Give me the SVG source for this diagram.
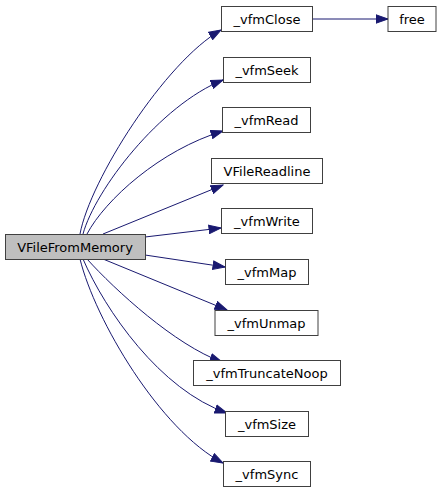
<svg xmlns="http://www.w3.org/2000/svg" width="441" height="493" viewBox="0 0 441 493">
<defs>
<style>
.node rect{fill:#ffffff;stroke:#404040;stroke-width:1}
.node.main rect{fill:#bfbfbf}
.node text{font-family:"DejaVu Sans",sans-serif;font-size:13px;fill:#000000;text-anchor:middle}
.edge{fill:none;stroke:#191970;stroke-width:1;marker-end:url(#arr)}
</style>
<marker id="arr" markerUnits="userSpaceOnUse" markerWidth="14" markerHeight="10" refX="12.5" refY="5" orient="auto" viewBox="0 0 14 10">
<path d="M0.5,0.8 L12.5,5 L0.5,9.2 z" fill="#191970" stroke="#191970" stroke-width="1"/>
</marker>
</defs>
<rect width="441" height="493" fill="#ffffff"/>
<g id="connectors">
<path class="edge" d="M80,234 C90,180 165,62 221,30"/>
<path class="edge" d="M83,234 C95,190 160,105 223,80"/>
<path class="edge" d="M87,234 C105,200 160,150 223,131"/>
<path class="edge" d="M103,234 L223,185"/>
<path class="edge" d="M145,237 L221,228"/>
<path class="edge" d="M145,255 L225,267"/>
<path class="edge" d="M103,259 L227,310"/>
<path class="edge" d="M87,259 C115,290 175,345 222,362"/>
<path class="edge" d="M83,259 C105,310 160,390 227,413"/>
<path class="edge" d="M80,259 C95,320 160,430 223,463"/>
<path class="edge" d="M312,19 L388,19"/>
</g>
<g id="VFileFromMemory" class="node main"><rect x="5.5" y="234.5" width="140" height="25"/><text x="75" y="251.5">VFileFromMemory</text></g>
<g id="vfmClose" class="node"><rect x="221.5" y="6.5" width="91" height="25"/><text x="267" y="23.5">_vfmClose</text></g>
<g id="free" class="node"><rect x="388" y="6.5" width="48" height="25"/><text x="412" y="23.5">free</text></g>
<g id="vfmSeek" class="node"><rect x="223.5" y="57.5" width="87" height="25"/><text x="267" y="74.5">_vfmSeek</text></g>
<g id="vfmRead" class="node"><rect x="222.5" y="107.5" width="88" height="25"/><text x="266.5" y="124.5">_vfmRead</text></g>
<g id="VFileReadline" class="node"><rect x="211.5" y="158.5" width="111" height="25"/><text x="267" y="175.5">VFileReadline</text></g>
<g id="vfmWrite" class="node"><rect x="221.5" y="208.5" width="91" height="25"/><text x="267" y="225.5">_vfmWrite</text></g>
<g id="vfmMap" class="node"><rect x="225.5" y="259.5" width="83" height="25"/><text x="267" y="276.5">_vfmMap</text></g>
<g id="vfmUnmap" class="node"><rect x="215" y="310.5" width="103" height="25"/><text x="266.5" y="327.5">_vfmUnmap</text></g>
<g id="vfmTruncateNoop" class="node"><rect x="193.5" y="360.5" width="147" height="25"/><text x="267" y="377.5">_vfmTruncateNoop</text></g>
<g id="vfmSize" class="node"><rect x="225.5" y="411.5" width="83" height="25"/><text x="267" y="428.5">_vfmSize</text></g>
<g id="vfmSync" class="node"><rect x="223.5" y="461.5" width="87" height="25"/><text x="267" y="478.5">_vfmSync</text></g>
</svg>
